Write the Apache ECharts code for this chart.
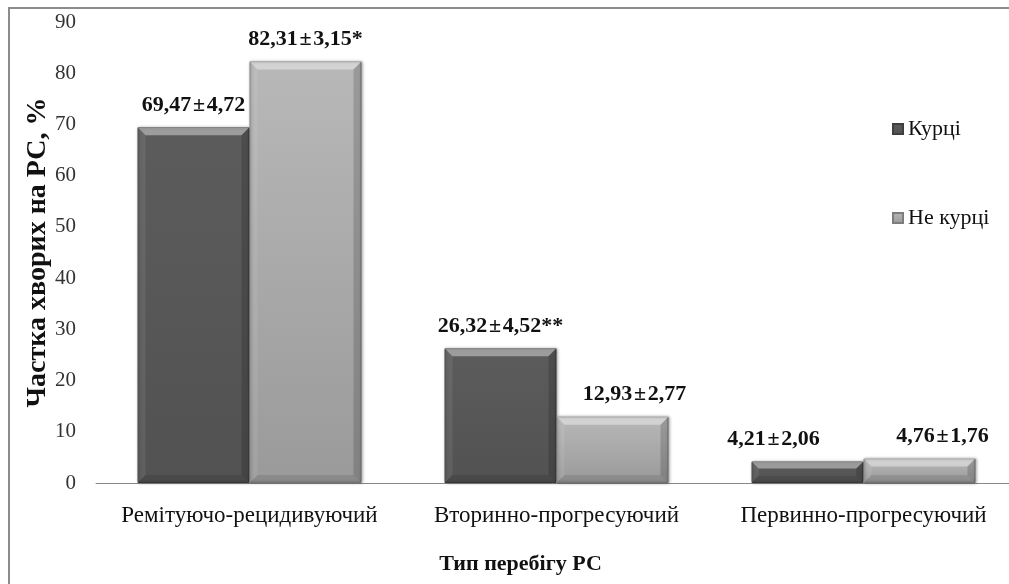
<!DOCTYPE html>
<html>
<head>
<meta charset="utf-8">
<script src="https://cdn.jsdelivr.net/npm/echarts@6/dist/echarts.min.js"></script>
<style>
html, body { margin: 0; padding: 0; background: #fff; }
#chart { width: 1009px; height: 584px; }
</style>
</head>
<body>
<div id="chart"></div>
<script>
var categories = ['Ремітуючо-рецидивуючий', 'Вторинно-прогресуючий', 'Первинно-прогресуючий'];
var seriesNames = ['Курці', 'Не курці'];
var smokers = [69.47, 26.32, 4.21];
var smokersErr = [4.72, 4.52, 2.06];
var smokersMark = ['', '**', ''];
var nonSmokers = [82.31, 12.93, 4.76];
var nonSmokersErr = [3.15, 2.77, 1.76];
var nonSmokersMark = ['*', '', ''];
var yTicks = [0, 10, 20, 30, 40, 50, 60, 70, 80, 90];

// label nudges, as placed by hand in the original
var smokersShift = [0, 0, -34];
var nonSmokersShift = [0, 22, 23];

var serif = 'Liberation Serif';
var BAR_W = 112;

function fmt(v) {
    return v.toFixed(2).replace('.', ',');
}

function buildData(vals, errs, marks, shift) {
    return vals.map(function (v, i) {
        return {
            value: v,
            label: {
                offset: [shift[i], 0],
                formatter: fmt(v) + '\u200a±\u200a' + fmt(errs[i]) + marks[i]
            }
        };
    });
}

// bevelled edges drawn over each bar (Excel "soft edge" look)
function bevelSeries(vals, side) {
    return {
        type: 'custom',
        silent: true,
        z: 3,
        data: vals.map(function (v, i) { return [i, v]; }),
        renderItem: function (params, api) {
            var top = api.coord([api.value(0), api.value(1)]);
            var base = api.coord([api.value(0), 0]);
            var x0 = side < 0 ? top[0] - BAR_W : top[0];
            var x1 = x0 + BAR_W;
            var y0 = top[1], y1 = base[1];
            var b = Math.min(8, (y1 - y0) / 3);
            return {
                type: 'group',
                children: [{
                    type: 'polygon',
                    shape: { points: [[x0, y0], [x1, y0], [x1 - b, y0 + b], [x0 + b, y0 + b]] },
                    style: { fill: 'rgba(255,255,255,0.4)' }
                }, {
                    type: 'polygon',
                    shape: { points: [[x0, y0], [x0 + b, y0 + b], [x0 + b, y1 - b], [x0, y1]] },
                    style: { fill: 'rgba(255,255,255,0.08)' }
                }, {
                    type: 'polygon',
                    shape: { points: [[x1, y0], [x1, y1], [x1 - b, y1 - b], [x1 - b, y0 + b]] },
                    style: { fill: 'rgba(0,0,0,0.16)' }
                }, {
                    type: 'polygon',
                    shape: { points: [[x0, y1], [x1, y1], [x1 - b, y1 - b], [x0 + b, y1 - b]] },
                    style: { fill: 'rgba(0,0,0,0.10)' }
                }]
            };
        }
    };
}

var dom = document.getElementById('chart');
var myChart = echarts.init(dom);

var darkFill = new echarts.graphic.LinearGradient(0, 0, 0, 1, [
    { offset: 0, color: '#5c5c5c' },
    { offset: 1, color: '#525252' }
]);
var lightFill = new echarts.graphic.LinearGradient(0, 0, 0, 1, [
    { offset: 0, color: '#b8b8b8' },
    { offset: 1, color: '#9a9a9a' }
]);

var labelStyle = {
    show: true,
    position: 'top',
    distance: 11,
    fontFamily: serif,
    fontWeight: 'bold',
    fontSize: 22,
    color: '#111'
};

var option = {
    backgroundColor: '#fff',
    animation: false,
    textStyle: { fontFamily: serif },
    graphic: [{
        type: 'rect',
        shape: { x: 9, y: 8, width: 1100, height: 700 },
        style: { fill: 'none', stroke: '#8c8c8c', lineWidth: 2 },
        silent: true
    }],
    grid: {
        left: 96,
        right: -8,
        top: 22,
        bottom: 101,
        outerBoundsMode: 'none'
    },
    legend: {
        orient: 'vertical',
        left: 887,
        top: 113,
        itemWidth: 10,
        itemHeight: 10,
        itemGap: 67,
        icon: 'rect',
        textStyle: { fontFamily: serif, fontSize: 22, color: '#111' },
        data: seriesNames
    },
    xAxis: {
        type: 'category',
        data: categories,
        name: 'Тип перебігу РС',
        nameLocation: 'middle',
        nameGap: 70,
        nameTextStyle: { fontFamily: serif, fontWeight: 'bold', fontSize: 22, color: '#111', padding: [0, 72, 0, 0] },
        axisTick: { show: false },
        axisLine: { lineStyle: { color: '#888', width: 1 } },
        axisLabel: { interval: 0, fontFamily: serif, fontSize: 23, color: '#111', margin: 21 }
    },
    yAxis: {
        type: 'value',
        min: yTicks[0],
        max: yTicks[yTicks.length - 1],
        interval: yTicks[1] - yTicks[0],
        name: 'Частка хворих на РС, %',
        nameLocation: 'middle',
        nameGap: 44,
        nameMoveOverlap: false,
        nameTextStyle: { fontFamily: serif, fontWeight: 'bold', fontSize: 28, color: '#111' },
        axisLine: { show: false },
        axisTick: { show: false },
        splitLine: { show: false },
        axisLabel: { fontFamily: serif, fontSize: 21, color: '#333', margin: 20 }
    },
    series: [{
        name: seriesNames[0],
        type: 'bar',
        barWidth: BAR_W,
        barGap: '0%',
        itemStyle: {
            color: darkFill,
            borderColor: '#3f3f3f',
            borderWidth: 1,
            shadowColor: 'rgba(0,0,0,0.35)',
            shadowBlur: 3,
            shadowOffsetX: 1
        },
        label: labelStyle,
        data: buildData(smokers, smokersErr, smokersMark, smokersShift)
    }, {
        name: seriesNames[1],
        type: 'bar',
        barWidth: BAR_W,
        barGap: '0%',
        itemStyle: {
            color: lightFill,
            borderColor: '#7d7d7d',
            borderWidth: 1,
            shadowColor: 'rgba(0,0,0,0.35)',
            shadowBlur: 3,
            shadowOffsetX: 1
        },
        label: labelStyle,
        data: buildData(nonSmokers, nonSmokersErr, nonSmokersMark, nonSmokersShift)
    },
    bevelSeries(smokers, -1),
    bevelSeries(nonSmokers, 1)]
};

myChart.setOption(option, true);
</script>
</body>
</html>
